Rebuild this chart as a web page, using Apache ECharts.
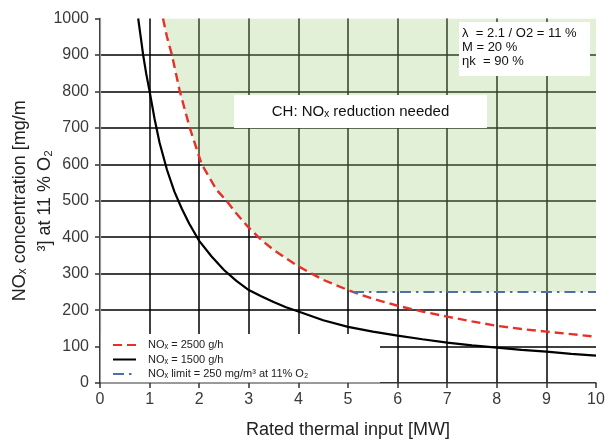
<!DOCTYPE html>
<html>
<head>
<meta charset="utf-8">
<script src="https://cdn.jsdelivr.net/npm/echarts@6/dist/echarts.min.js"></script>
<style>
  html, body { margin: 0; padding: 0; background: #fff; }
  #chart { width: 612px; height: 441px; }
</style>
</head>
<body>
<div id="chart"></div>
<script>
// Rated thermal input [MW] and NOx concentration [mg/m³]
const redX = [1.27, 1.35, 1.45, 1.53, 1.61, 1.71, 1.81, 1.93, 2.05, 2.2, 2.35, 2.55, 2.75, 3, 3.25, 3.5, 3.75, 4, 4.5, 5, 5.1, 5.5, 6, 6.5, 7, 7.5, 8, 8.5, 9, 9.5, 10];
const redY = [1000, 950, 900, 850, 800, 750, 700, 650, 600, 565, 530, 500, 465, 426, 393, 365, 342, 320, 283, 255, 250, 231, 212, 196, 182, 169, 157, 148, 141, 134, 127];

const blackX = [0.77, 0.82, 0.87, 0.93, 1, 1.1, 1.2, 1.35, 1.5, 1.65, 1.8, 2, 2.25, 2.5, 2.75, 3, 3.25, 3.5, 3.75, 4, 4.5, 5, 5.5, 6, 6.5, 7, 7.5, 8, 8.5, 9, 9.5, 10];
const blackY = [1000, 950, 900, 850, 800, 725, 660, 585, 525, 478, 437, 390, 347, 310, 280, 255, 238, 222, 208, 196, 172, 154, 141, 130, 120, 111, 103, 97, 91, 86, 80, 75];

const limitX = [5.1, 10];
const limitY = [250, 250];

const seriesNames = [
  'NOₓ = 2500 g/h',
  'NOₓ = 1500 g/h',
  'NOₓ limit = 250 mg/m³ at 11% O₂'
];

const pairs = (xs, ys) => xs.map((x, i) => [x, ys[i]]);
const redData = pairs(redX, redY);
const blackData = pairs(blackX, blackY);
const limitData = pairs(limitX, limitY);
// region above both the 2500 g/h curve and the limit line
const zoneData = redData.filter(p => p[0] < limitX[0]).concat(limitData);

const chart = echarts.init(document.getElementById('chart'), null, { renderer: 'canvas' });

const font = 'Liberation Sans, Arial, sans-serif';
const tickFont = { fontFamily: font, fontSize: 16, color: '#3a3a3a', formatter: v => String(v) };

chart.setOption({
  animation: false,
  backgroundColor: '#fff',
  grid: { left: 100, right: 16, top: 18.5, bottom: 58, containLabel: false, outerBoundsMode: 'none' },
  xAxis: [{
    type: 'value', min: 0, max: 10, interval: 1,
    name: 'Rated thermal input [MW]', nameLocation: 'middle', nameGap: 38, nameMoveOverlap: false,
    nameTextStyle: { fontFamily: font, fontSize: 18, color: '#222' },
    axisLine: { show: true, lineStyle: { color: '#333', width: 1.5 } },
    axisTick: { show: true, length: 5, lineStyle: { color: '#333', width: 1.5 } },
    axisLabel: Object.assign({ margin: 9 }, tickFont),
    splitLine: { show: true, showMaxLine: false, lineStyle: { color: '#000', width: 1.5 } }
  }, {
    type: 'value', min: 0, max: 10, position: 'top',
    axisLine: { show: true, lineStyle: { color: '#999', width: 1.2 } },
    axisTick: { show: false }, axisLabel: { show: false }, splitLine: { show: false }
  }],
  yAxis: [{
    type: 'value', min: 0, max: 1000, interval: 100,
    name: 'NOₓ concentration [mg/m\n³] at 11 % O₂', nameLocation: 'middle', nameGap: 42, nameMoveOverlap: false,
    nameTextStyle: { fontFamily: font, fontSize: 18, color: '#222', lineHeight: 25 },
    axisLine: { show: true, lineStyle: { color: '#333', width: 1.5 } },
    axisTick: { show: true, length: 5, lineStyle: { color: '#333', width: 1.5 } },
    axisLabel: Object.assign({ margin: 11 }, tickFont),
    splitLine: { show: true, showMaxLine: false, lineStyle: { color: '#000', width: 1.5 } }
  }, {
    type: 'value', min: 0, max: 1000, position: 'right',
    axisLine: { show: true, lineStyle: { color: '#999', width: 1.2 } },
    axisTick: { show: false }, axisLabel: { show: false }, splitLine: { show: false }
  }],
  legend: {
    data: seriesNames,
    orient: 'vertical', left: 112, top: 339.5, padding: 0,
    itemWidth: 23, itemHeight: 11, itemGap: 3.5,
    itemStyle: { opacity: 0 },
    textStyle: { fontFamily: font, fontSize: 11, color: '#222', padding: [0, 0, 0, 7] },
    z: 10
  },
  graphic: [
    { type: 'rect', z: 4, silent: true, shape: { x: 101, y: 334, width: 279, height: 48.5 }, style: { fill: '#fff' } },
    { type: 'rect', z: 4, silent: true, shape: { x: 234, y: 95, width: 253, height: 33 }, style: { fill: '#fff' } },
    { type: 'text', z: 5, silent: true, x: 360.5, y: 111.5,
      style: { text: 'CH: NOₓ reduction needed', font: '15px "Liberation Sans", Arial, sans-serif', fill: '#111', align: 'center', verticalAlign: 'middle' } },
    { type: 'rect', z: 4, silent: true, shape: { x: 459, y: 22, width: 131, height: 54 }, style: { fill: '#fff' } },
    { type: 'text', z: 5, silent: true, x: 462, y: 26,
      style: { text: 'λ  = 2.1 / O2 = 11 %\nM = 20 %\nηk  = 90 %', font: '13px "Liberation Sans", Arial, sans-serif', lineHeight: 14, fill: '#111', align: 'left', verticalAlign: 'top' } }
  ],
  series: [
    {
      name: 'zone', type: 'line', data: zoneData, z: 2,
      symbol: 'none', silent: true,
      lineStyle: { width: 0, opacity: 0 },
      areaStyle: { origin: 'end', color: 'rgba(160,205,125,0.44)' }
    },
    {
      name: seriesNames[0], type: 'line', data: redData, z: 6,
      symbol: 'none',
      lineStyle: { color: '#e8302a', width: 2.4, type: [9, 5] },
      itemStyle: { color: '#e8302a' }
    },
    {
      name: seriesNames[1], type: 'line', data: blackData, z: 6,
      symbol: 'none',
      lineStyle: { color: '#000', width: 2.2 },
      itemStyle: { color: '#000' }
    },
    {
      name: seriesNames[2], type: 'line', data: limitData, z: 6,
      symbol: 'none',
      lineStyle: { color: '#4f6fa8', width: 2, type: [11, 5, 2.5, 5] },
      itemStyle: { color: '#4f6fa8' }
    }
  ]
});
</script>
</body>
</html>
